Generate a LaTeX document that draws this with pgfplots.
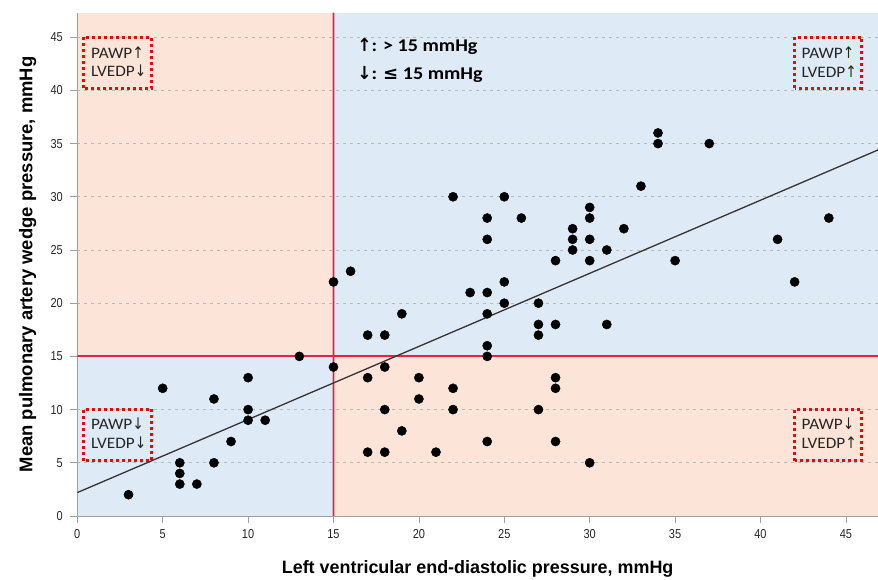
\documentclass[border=0pt]{standalone}
\usepackage{fontspec}
\setmainfont{Liberation Sans}
\newfontfamily\calfont{Carlito}
\newfontfamily\dvfont{DejaVu Sans}
\usepackage{pgfplots}
\pgfplotsset{compat=1.18}
\definecolor{bgorange}{RGB}{252,229,216}
\definecolor{bgblue}{RGB}{222,235,246}
\definecolor{redline}{RGB}{236,30,70}
\definecolor{gridgray}{RGB}{185,185,185}
\definecolor{axisgray}{RGB}{160,160,160}
\definecolor{boxred}{RGB}{230,10,10}
\newcommand{\up}{{\dvfont\scalebox{0.8}[1]{↑}}}
\newcommand{\dn}{{\dvfont\scalebox{0.8}[1]{↓}}}
\begin{document}
\begin{tikzpicture}
\begin{axis}[
  set layers,
  scale only axis, width=800.7bp, height=503.3bp,
  at={(0,0)}, anchor=south west,
  xmin=0, xmax=46.88, ymin=0, ymax=47.3,
  axis x line*=bottom, axis y line*=left,
  axis line style={axisgray, line width=1pt, -},
  xtick={0,5,...,45}, ytick={0,5,...,45},
  tick align=outside, major tick length=7bp,
  tick style={axisgray, line width=0.8pt},
  ymajorgrids, grid style={gridgray, dash pattern=on 3bp off 4bp, line width=0.9pt},
  extra x ticks={15}, extra x tick labels={},
  extra x tick style={major tick length=0pt, xmajorgrids=true, major grid style={color=redline, solid, line width=1.8bp}},
  /pgf/number format/assume math mode=true,
  xticklabel={\scalebox{0.85}[1]{\pgfmathprintnumber{\tick}}},
  yticklabel={\scalebox{0.85}[1]{\pgfmathprintnumber{\tick}}},
  xticklabel style={font=\fontsize{13}{13}\selectfont, text=black!85, yshift=-3bp},
  yticklabel style={font=\fontsize{13}{13}\selectfont, text=black!85, xshift=-4bp},
  xlabel={Left ventricular end-diastolic pressure, mmHg},
  ylabel={Mean pulmonary artery wedge pressure, mmHg},
  xlabel style={font=\bfseries\fontsize{18}{18}\selectfont, at={(axis description cs:0.5,0)}, anchor=base, yshift=-57bp},
  ylabel style={font=\bfseries\fontsize{18.5}{18.5}\selectfont, at={(axis description cs:0,0.5)}, anchor=base, yshift=45bp},
]
% quadrant backgrounds
\addplot[on layer=axis background, fill=bgorange, draw=none] coordinates {(0,15) (15,15) (15,47.3) (0,47.3)} --cycle;
\addplot[on layer=axis background, fill=bgblue, draw=none] coordinates {(15,15) (46.88,15) (46.88,47.3) (15,47.3)} --cycle;
\addplot[on layer=axis background, fill=bgblue, draw=none] coordinates {(0,0) (15,0) (15,15) (0,15)} --cycle;
\addplot[on layer=axis background, fill=bgorange, draw=none] coordinates {(15,0) (46.88,0) (46.88,15) (15,15)} --cycle;
% threshold lines
\addplot[on layer=main, color=redline, solid, line width=1.8bp, mark=none] coordinates {(14.999,0) (15,23.65) (15.001,47.3)};
\addplot[on layer=main, color=redline, solid, line width=1.8bp, mark=none] coordinates {(0,15) (46.88,15)};
% regression line
\addplot[on layer=main, color=black!80, solid, line width=1.3pt, mark=none] coordinates {(0,2.2) (46.88,34.4)};
% data
\addplot[on layer=main, only marks, mark=*, mark size=4.6bp, mark options={fill=black, draw=black}] coordinates {
(3,2) (5,12) (6,5) (6,4) (6,3) (7,3) (8,11) (8,5) (9,7) (10,13) (10,10) (10,9) (11,9) (13,15) (15,14)
(15,22) (16,23) (17,17) (18,17) (19,19) (22,30) (23,21) (24,28) (24,26) (24,21) (24,19) (24,16) (24,15)
(25,30) (25,22) (25,20) (26,28) (27,20) (27,18) (27,17) (28,24) (28,18) (29,27) (29,26) (29,25)
(30,29) (30,28) (30,26) (30,24) (31,25) (31,18) (32,27) (33,31) (34,36) (34,35) (35,24) (37,35)
(41,26) (42,22) (44,28)
(17,13) (18,14) (20,13) (20,11) (22,12) (22,10) (18,10) (19,8) (17,6) (18,6) (21,6) (24,7)
(28,13) (28,12) (27,10) (28,7) (30,5)
};
% dotted boxes
\draw[boxred, line width=3bp, dash pattern=on 3bp off 3bp] (axis cs:0.35,40.2) rectangle (axis cs:4.35,45);
\draw[boxred, line width=3bp, dash pattern=on 3bp off 3bp] (axis cs:42.0,40.2) rectangle (axis cs:45.9,45);
\draw[boxred, line width=3bp, dash pattern=on 3bp off 3bp] (axis cs:0.35,5.2) rectangle (axis cs:4.35,10.05);
\draw[boxred, line width=3bp, dash pattern=on 3bp off 3bp] (axis cs:42.0,5.2) rectangle (axis cs:45.9,10.05);
\begin{scope}[every node/.style={anchor=west, inner sep=0pt, font=\calfont\fontsize{16}{16}\selectfont, text=black!85}]
\node at (axis cs:0.8,43.5) {\scalebox{1.08}[1]{PAWP\up}};
\node at (axis cs:0.8,41.8) {\scalebox{1.08}[1]{LVEDP\dn}};
\node at (axis cs:42.4,43.5) {\scalebox{1.08}[1]{PAWP\up}};
\node at (axis cs:42.4,41.8) {\scalebox{1.08}[1]{LVEDP\up}};
\node at (axis cs:0.8,8.65) {\scalebox{1.08}[1]{PAWP\dn}};
\node at (axis cs:0.8,6.85) {\scalebox{1.08}[1]{LVEDP\dn}};
\node at (axis cs:42.4,8.65) {\scalebox{1.08}[1]{PAWP\dn}};
\node at (axis cs:42.4,6.85) {\scalebox{1.08}[1]{LVEDP\up}};
\end{scope}
\begin{scope}[every node/.style={anchor=west, inner sep=0pt, font=\calfont\bfseries\fontsize{18}{18}\selectfont, text=black}]
\node at (axis cs:16.38,44.1) {\scalebox{1.12}[1]{{\dvfont\scalebox{0.85}[1]{↑}}: > 15 mmHg}};
\node at (axis cs:16.38,41.45) {\scalebox{1.12}[1]{{\dvfont\scalebox{0.85}[1]{↓}}: {\dvfont\scalebox{0.9}[1]{≤}} 15 mmHg}};
\end{scope}
\end{axis}
\pgfresetboundingbox
\path[use as bounding box] (-77.3bp,-64bp) rectangle (800.7bp,516bp);
\end{tikzpicture}
\end{document}
